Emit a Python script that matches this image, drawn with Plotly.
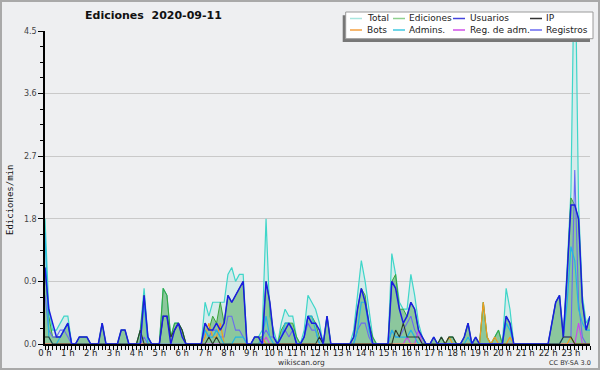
import plotly.graph_objects as go

# ---------------- data (edits per minute, 10-minute bins, 6 per hour) ----------------
hours = list(range(24))
hour_labels = [f"{h} h" for h in hours]
bins_per_hour = 6
times = [i / bins_per_hour for i in range(24 * bins_per_hour)]
y_ticks = [0.0, 0.9, 1.8, 2.7, 3.6, 4.5]

total = [
    1.8, 0.5, 0.2, 0.2, 0.3, 0.4,
    0.4, 0, 0, 0.1, 0.1, 0.1,
    0, 0, 0, 0.3, 0, 0,
    0, 0, 0.2, 0.2, 0, 0,
    0, 0.2, 0.8, 0.1, 0, 0,
    0, 0.8, 0.7, 0.1, 0.3, 0.3,
    0.2, 0, 0, 0, 0, 0,
    0.6, 0.4, 0.6, 0.6, 0.6, 0.6,
    1.0, 1.1, 0.9, 1.0, 1.0, 0,
    0, 0.1, 0.1, 0.2, 1.8, 0.4,
    0.2, 0, 0.3, 0.5, 0.4, 0.4,
    0.1, 0, 0.2, 0.7, 0.6, 0.5,
    0.3, 0, 0.4, 0, 0, 0,
    0, 0, 0, 0.2, 0.7, 1.2,
    0.9, 0.5, 0.1, 0, 0, 0,
    0, 1.3, 1.0, 0.6, 0.5, 0.5,
    1.0, 0.7, 0.3, 0.1, 0, 0,
    0.1, 0, 0.1, 0, 0.1, 0.1,
    0, 0, 0.1, 0.3, 0, 0.1,
    0, 0.6, 0.1, 0, 0.1, 0.2,
    0, 0.8, 0.5, 0, 0, 0,
    0, 0, 0, 0, 0, 0,
    0, 0.3, 0.6, 0.7, 0.1, 1.1,
    2.2, 6.0, 2.0, 0.7, 0.3, 0.4,
]

ediciones = [
    1.1, 0.4, 0.1, 0.1, 0.1, 0.2,
    0.3, 0, 0, 0.1, 0.1, 0.1,
    0, 0, 0, 0.3, 0, 0,
    0, 0, 0.2, 0.2, 0, 0,
    0, 0.2, 0.7, 0.1, 0, 0,
    0, 0.8, 0.7, 0.1, 0.3, 0.3,
    0.2, 0, 0, 0, 0, 0,
    0.3, 0.2, 0.4, 0.3, 0.6, 0.3,
    0.7, 0.6, 0.7, 0.8, 0.9, 0,
    0, 0.1, 0.1, 0.1, 0.9, 0.6,
    0.1, 0, 0.2, 0.3, 0.3, 0.3,
    0.1, 0, 0.1, 0.4, 0.4, 0.3,
    0.1, 0, 0.4, 0, 0, 0,
    0, 0, 0, 0.1, 0.5, 0.8,
    0.7, 0.3, 0.1, 0, 0, 0,
    0, 0.9, 1.0, 0.5, 0.5, 0.4,
    0.6, 0.5, 0.2, 0.1, 0, 0,
    0.1, 0, 0.1, 0, 0.1, 0.1,
    0, 0, 0.1, 0.3, 0, 0.1,
    0, 0.6, 0.1, 0, 0.1, 0.2,
    0, 0.4, 0.3, 0, 0, 0,
    0, 0, 0, 0, 0, 0,
    0, 0.3, 0.6, 0.7, 0.1, 1.0,
    2.1, 2.0, 1.8, 0.6, 0.2, 0.4,
]

usuarios = [
    1.1, 0.5, 0.3, 0.1, 0.1, 0.2,
    0.3, 0, 0, 0.1, 0.1, 0.1,
    0, 0, 0, 0.3, 0, 0,
    0, 0, 0.2, 0.2, 0, 0,
    0, 0, 0.7, 0.1, 0, 0,
    0, 0.4, 0.4, 0, 0.2, 0.3,
    0.1, 0, 0, 0, 0, 0,
    0.3, 0.2, 0.2, 0.3, 0.2, 0.3,
    0.7, 0.6, 0.7, 0.8, 0.9, 0,
    0, 0.1, 0.1, 0, 0.9, 0.6,
    0.1, 0, 0.1, 0.2, 0.3, 0.2,
    0, 0, 0.1, 0.4, 0.3, 0.3,
    0.2, 0, 0.4, 0, 0, 0,
    0, 0, 0, 0.1, 0.5, 0.8,
    0.6, 0.3, 0, 0, 0, 0,
    0, 0.9, 0.8, 0.5, 0.3, 0.4,
    0.6, 0.5, 0.2, 0.1, 0, 0,
    0.1, 0, 0, 0, 0, 0,
    0, 0, 0.1, 0.3, 0, 0.1,
    0, 0, 0, 0, 0, 0,
    0, 0.4, 0.3, 0, 0, 0,
    0, 0, 0, 0, 0, 0,
    0, 0.3, 0.6, 0.7, 0.1, 1.0,
    2.0, 2.0, 1.8, 0.6, 0.2, 0.4,
]

ip = [
    0.1, 0.1, 0, 0, 0, 0,
    0, 0, 0, 0, 0, 0,
    0, 0, 0, 0, 0, 0,
    0, 0, 0, 0, 0, 0,
    0, 0.2, 0, 0, 0, 0,
    0, 0.4, 0.4, 0.1, 0.2, 0.3,
    0.2, 0, 0, 0, 0, 0,
    0, 0.1, 0, 0.1, 0, 0,
    0, 0, 0, 0, 0, 0,
    0, 0, 0, 0, 0, 0,
    0, 0, 0, 0, 0, 0,
    0, 0, 0, 0, 0, 0,
    0.1, 0, 0, 0, 0, 0,
    0, 0, 0, 0, 0, 0,
    0, 0, 0, 0, 0, 0,
    0, 0, 0.2, 0.1, 0.3, 0.1,
    0.1, 0.1, 0.1, 0, 0, 0,
    0, 0, 0.1, 0, 0.1, 0.1,
    0, 0, 0, 0, 0, 0,
    0, 0, 0, 0, 0, 0,
    0, 0, 0, 0, 0, 0,
    0, 0, 0, 0, 0, 0,
    0, 0, 0, 0, 0.1, 0.1,
    0.1, 0, 0, 0, 0, 0,
]

bots = [
    0, 0, 0, 0, 0, 0,
    0, 0, 0, 0, 0, 0,
    0, 0, 0, 0, 0, 0,
    0, 0, 0, 0, 0, 0,
    0, 0, 0, 0, 0, 0,
    0, 0, 0, 0, 0, 0,
    0, 0, 0, 0, 0, 0,
    0.1, 0.3, 0.1, 0.1, 0.3, 0,
    0, 0, 0, 0, 0, 0,
    0, 0, 0, 0.1, 0, 0,
    0, 0, 0, 0, 0, 0,
    0, 0, 0, 0, 0, 0,
    0, 0, 0, 0, 0, 0,
    0, 0, 0, 0, 0, 0,
    0, 0, 0, 0, 0, 0,
    0, 0, 0, 0, 0, 0,
    0, 0, 0, 0, 0, 0,
    0, 0, 0, 0, 0.1, 0,
    0, 0, 0, 0, 0, 0,
    0, 0.6, 0.1, 0, 0.1, 0,
    0, 0, 0.1, 0, 0, 0,
    0, 0, 0, 0, 0, 0,
    0, 0, 0, 0, 0, 0,
    0.1, 0, 0, 0, 0, 0,
]

admins = [
    1.6, 0.1, 0, 0, 0.1, 0.2,
    0.3, 0, 0, 0, 0, 0,
    0, 0, 0, 0, 0, 0,
    0, 0, 0, 0, 0, 0,
    0, 0, 0.6, 0, 0, 0,
    0, 0, 0, 0, 0, 0,
    0, 0, 0, 0, 0, 0,
    0.2, 0.1, 0.1, 0.2, 0.1, 0,
    0, 0, 0.1, 0.1, 0.1, 0,
    0, 0, 0, 0.1, 0.4, 0.1,
    0, 0, 0.1, 0.3, 0.3, 0.2,
    0, 0, 0.1, 0.4, 0.4, 0.2,
    0, 0, 0, 0, 0, 0,
    0, 0, 0, 0, 0.2, 0.6,
    0.6, 0.2, 0, 0, 0, 0,
    0, 0.2, 0.1, 0.1, 0.1, 0.1,
    0.2, 0.1, 0, 0, 0, 0,
    0, 0, 0, 0, 0, 0,
    0, 0, 0, 0.1, 0, 0,
    0, 0, 0, 0, 0, 0,
    0, 0.3, 0.2, 0, 0, 0,
    0, 0, 0, 0, 0, 0,
    0, 0, 0, 0, 0.1, 0.6,
    1.4, 1.2, 0.5, 0.3, 0.2, 0.2,
]

reg_adm = [
    0, 0, 0, 0, 0, 0,
    0, 0, 0, 0, 0, 0,
    0, 0, 0, 0, 0, 0,
    0, 0, 0, 0, 0, 0,
    0, 0, 0, 0, 0, 0,
    0, 0, 0, 0, 0, 0,
    0, 0, 0, 0, 0, 0,
    0, 0, 0, 0, 0, 0,
    0, 0, 0, 0, 0, 0,
    0, 0, 0, 0, 0.1, 0,
    0, 0, 0, 0, 0, 0,
    0, 0, 0, 0, 0, 0,
    0, 0, 0, 0, 0, 0,
    0, 0, 0, 0, 0, 0,
    0, 0, 0, 0, 0, 0,
    0, 0, 0, 0, 0, 0.1,
    0, 0, 0.2, 0, 0, 0,
    0, 0, 0, 0, 0, 0,
    0, 0, 0, 0, 0, 0,
    0, 0, 0, 0, 0, 0,
    0, 0, 0, 0, 0, 0,
    0, 0, 0, 0, 0, 0,
    0, 0, 0, 0, 0, 0,
    0, 0, 0.3, 0, 0, 0,
]

registros = [
    0.7, 0.2, 0.1, 0.1, 0.2, 0.2,
    0.1, 0, 0, 0, 0, 0,
    0, 0, 0, 0, 0, 0,
    0, 0, 0, 0, 0, 0,
    0, 0, 0.1, 0, 0, 0,
    0, 0, 0, 0, 0, 0,
    0, 0, 0, 0, 0, 0,
    0.2, 0.1, 0.2, 0.2, 0.1, 0.1,
    0.4, 0.4, 0.2, 0.2, 0.1, 0,
    0, 0, 0, 0.1, 0.2, 0.1,
    0.1, 0, 0.1, 0.2, 0.1, 0.2,
    0, 0, 0.1, 0.3, 0.2, 0.2,
    0, 0, 0, 0, 0, 0,
    0, 0, 0, 0, 0.2, 0.3,
    0.3, 0.1, 0, 0, 0, 0,
    0, 0.2, 0.1, 0.1, 0.2, 0.3,
    0.4, 0.2, 0.1, 0, 0, 0,
    0, 0, 0, 0, 0, 0,
    0, 0, 0, 0, 0, 0,
    0, 0, 0, 0, 0, 0,
    0, 0, 0, 0, 0, 0,
    0, 0, 0, 0, 0, 0,
    0, 0, 0, 0, 0.1, 0.1,
    0.1, 2.5, 0.6, 0.1, 0, 0,
]

# ---------------- figure ----------------
W, H = 600, 370
ML, MR, MT, MB = 45, 10, 31, 26
PW, PH = W - ML - MR, H - MT - MB


def px(x):
    return (x - ML) / PW


def py(y):
    return (H - MB - y) / PH


BG = "#eeeff1"
fig = go.Figure()

fig.add_trace(go.Scatter(x=times, y=total, mode="lines", fill="tozeroy",
                         fillcolor="rgba(64,214,200,0.14)",
                         line=dict(color="#3fd6c9", width=1.2), name="Total"))
fig.add_trace(go.Scatter(x=times, y=ediciones, mode="lines", fill="tozeroy",
                         fillcolor="rgba(40,150,50,0.42)",
                         line=dict(color="#3aa53a", width=1), name="Ediciones"))
line_series = [
    ("Registros", registros, "#6a6af0", 1.1),
    ("Reg. de adm.", reg_adm, "#cc44ee", 1.1),
    ("Bots", bots, "#f39a1e", 1.2),
    ("Admins.", admins, "#22b6e4", 1.2),
    ("IP", ip, "#2b3a2b", 1.1),
    ("Usuarios", usuarios, "#1c1ce0", 1.5),
]
for name, vals, color, w in line_series:
    fig.add_trace(go.Scatter(x=times, y=vals, mode="lines", name=name,
                             line=dict(color=color, width=w)))

fig.update_layout(
    width=W, height=H,
    margin=dict(l=ML, r=MR, t=MT, b=MB),
    paper_bgcolor=BG, plot_bgcolor=BG,
    showlegend=False,
    xaxis=dict(
        range=[0, times[-1]], tickvals=hours, ticktext=hour_labels,
        ticks="outside", ticklen=4, tickcolor="#000", tickwidth=1,
        ticklabelstandoff=-4,
        showline=True, linecolor="#000", linewidth=1.5,
        showgrid=False, zeroline=False,
        tickfont=dict(family="DejaVu Sans", size=8.5, color="#222"),
        minor=dict(tick0=0, dtick=1 / bins_per_hour, ticks="outside",
                   ticklen=4, tickcolor="#000", showgrid=False),
    ),
    yaxis=dict(
        range=[0, 4.5], tickvals=y_ticks, tickformat=".1f",
        ticks="outside", ticklen=5, tickcolor="#000",
        showline=True, linecolor="#000", linewidth=1.5,
        showgrid=True, gridcolor="#c9c9c9", gridwidth=1, zeroline=False,
        tickfont=dict(family="DejaVu Sans", size=8, color="#444"),
        minor=dict(tick0=0, dtick=0.225, ticks="outside", ticklen=3,
                   tickcolor="#000", showgrid=False),
    ),
)

shapes = []
annotations = []

# outer border
shapes.append(dict(type="rect", xref="paper", yref="paper",
                   x0=px(1), x1=px(599), y0=py(1), y1=py(369),
                   line=dict(color="#a9a9a9", width=2), layer="above"))

# legend: shadow and box
shapes.append(dict(type="rect", xref="paper", yref="paper",
                   x0=px(342.7), x1=px(590), y0=py(15.3), y1=py(42.0),
                   fillcolor="#777777", line=dict(width=0), layer="above"))
shapes.append(dict(type="rect", xref="paper", yref="paper",
                   x0=px(345.7), x1=px(593), y0=py(12.0), y1=py(38.7),
                   fillcolor="#ffffff", line=dict(color="#9a9a9a", width=1), layer="above"))

legend_items = [
    ("Total", "#a8e6df", 350, 366, 18.5),
    ("Ediciones", "#8fd08f", 393, 408, 18.5),
    ("Usuarios", "#4444dd", 453, 469, 18.5),
    ("IP", "#333333", 530, 545, 18.5),
    ("Bots", "#f5a040", 350, 366, 30.0),
    ("Admins.", "#40c8e0", 393, 408, 30.0),
    ("Reg. de adm.", "#d050e8", 453, 469, 30.0),
    ("Registros", "#6a6af0", 530, 545, 30.0),
]
for label, color, lx, tx, ly in legend_items:
    shapes.append(dict(type="line", xref="paper", yref="paper",
                       x0=px(lx), x1=px(lx + 12), y0=py(ly), y1=py(ly),
                       line=dict(color=color, width=1.5), layer="above"))
    annotations.append(dict(text=label, xref="paper", yref="paper",
                            x=px(tx), y=py(ly), xanchor="left", yanchor="middle",
                            showarrow=False, borderpad=0,
                            font=dict(family="DejaVu Sans", size=9, color="#222")))

# title and texts
annotations.append(dict(text="<b>Ediciones\u00a0 2020-09-11</b>", xref="paper", yref="paper",
                        x=px(153.5), y=py(16), xanchor="center", yanchor="middle",
                        showarrow=False,
                        font=dict(family="DejaVu Sans", size=11, color="#111")))
annotations.append(dict(text="Ediciones/min", xref="paper", yref="paper",
                        x=px(10), y=py(200), xanchor="center", yanchor="middle",
                        textangle=-90, showarrow=False,
                        font=dict(family="DejaVu Sans Mono", size=9, color="#111")))
annotations.append(dict(text="wikiscan.org", xref="paper", yref="paper",
                        x=px(301), y=py(362), xanchor="center", yanchor="middle",
                        showarrow=False,
                        font=dict(family="DejaVu Sans", size=7.5, color="#333")))
annotations.append(dict(text="CC BY-SA 3.0", xref="paper", yref="paper",
                        x=px(569.5), y=py(362.5), xanchor="center", yanchor="middle",
                        showarrow=False,
                        font=dict(family="DejaVu Sans", size=6.5, color="#333")))

fig.update_layout(shapes=shapes, annotations=annotations)
fig.write_html(
    "out.html",
    config={"displayModeBar": False},
    post_script="document.body.style.margin='0';document.body.style.padding='0';"
                "document.documentElement.style.overflow='hidden';",
)
